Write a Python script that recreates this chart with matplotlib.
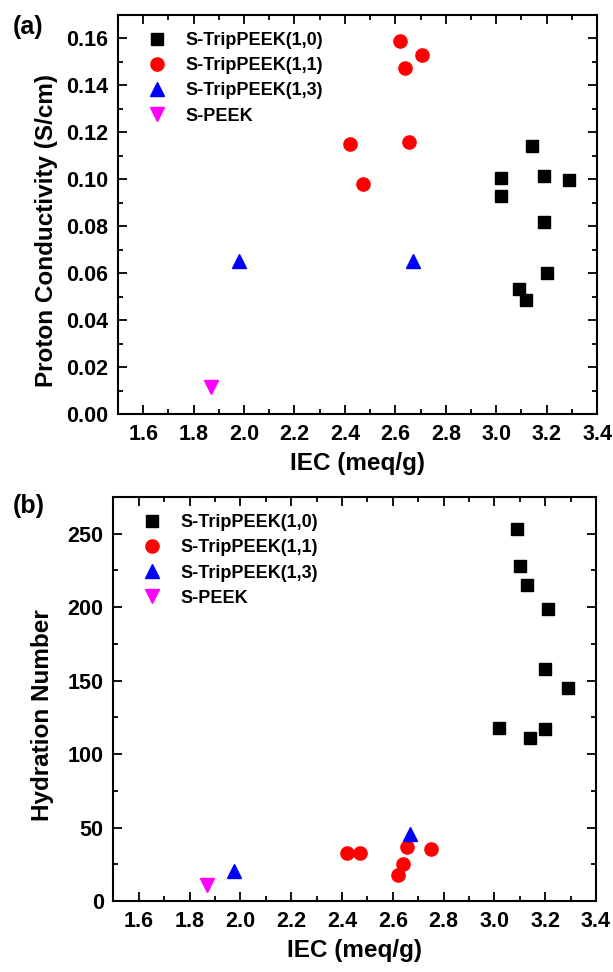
import numpy as np
import matplotlib
matplotlib.use("Agg")
import matplotlib.pyplot as plt
from matplotlib.ticker import MultipleLocator, FormatStrFormatter

plt.rcParams['font.family'] = ['Liberation Sans', 'DejaVu Sans']
plt.rcParams['font.weight'] = 'bold'

labels = ["S-TripPEEK(1,0)", "S-TripPEEK(1,1)", "S-TripPEEK(1,3)", "S-PEEK"]

# (a) proton conductivity vs IEC
a_iec_10 = [3.02, 3.02, 3.14, 3.19, 3.29, 3.19, 3.20, 3.09, 3.12]
a_sig_10 = [0.1005, 0.093, 0.1143, 0.1015, 0.0999, 0.0818, 0.0603, 0.0532, 0.0487]
a_iec_11 = [2.62, 2.705, 2.64, 2.42, 2.655, 2.47]
a_sig_11 = [0.159, 0.1529, 0.1476, 0.115, 0.1157, 0.0978]
a_iec_13 = [1.98, 2.67]
a_sig_13 = [0.0653, 0.065]
a_iec_pk = [1.87]
a_sig_pk = [0.0114]

# (b) hydration number vs IEC
b_iec_10 = [3.09, 3.10, 3.13, 3.21, 3.20, 3.29, 3.02, 3.20, 3.14]
b_lam_10 = [253, 228, 215, 199, 158, 145, 118, 117, 111]
b_iec_11 = [2.42, 2.47, 2.657, 2.75, 2.64, 2.62]
b_lam_11 = [32.6, 32.6, 36.5, 35.3, 25.0, 18.0]
b_iec_13 = [1.975, 2.667]
b_lam_13 = [20.5, 45.5]
b_iec_pk = [1.867]
b_lam_pk = [11.0]

styles = [('s', 'black', 8.5), ('o', 'red', 9.5), ('^', 'blue', 10), ('v', 'magenta', 10)]

fig = plt.figure(figsize=(6.13, 9.72), dpi=100)
ax1 = fig.add_axes([0.1925, 0.574, 0.7815, 0.4106])
ax2 = fig.add_axes([0.185, 0.073, 0.7872, 0.4157])

def draw(ax, sets):
    for (x, y), lab, (m, c, ms) in zip(sets, labels, styles):
        ax.plot(x, y, linestyle='none', marker=m, color=c, markersize=ms, label=lab)
    ax.set_xlim(1.5, 3.4)
    ax.xaxis.set_major_locator(MultipleLocator(0.2))
    ax.xaxis.set_minor_locator(MultipleLocator(0.1))
    ax.tick_params(which='both', direction='in', top=True, right=True, width=1.3,
                   labelsize=15.5, pad=7)
    ax.tick_params(which='major', length=6.5)
    ax.tick_params(which='minor', length=3.5)
    for s in ax.spines.values():
        s.set_linewidth(1.5)
    ax.set_xlabel('IEC (meq/g)', fontsize=17.5, fontweight='bold', labelpad=5)
    ax.legend(loc='upper left', bbox_to_anchor=(0.043, 0.975), borderaxespad=0,
              frameon=False, fontsize=13, handletextpad=0.97, handlelength=1.2,
              labelspacing=0.45)

draw(ax1, [(a_iec_10, a_sig_10), (a_iec_11, a_sig_11), (a_iec_13, a_sig_13), (a_iec_pk, a_sig_pk)])
ax1.set_ylim(0, 0.17)
ax1.yaxis.set_major_locator(MultipleLocator(0.02))
ax1.yaxis.set_minor_locator(MultipleLocator(0.01))
ax1.yaxis.set_major_formatter(FormatStrFormatter('%.2f'))
ax1.set_ylabel('Proton Conductivity (S/cm)', fontsize=17.5, fontweight='bold', labelpad=6)
ax1.yaxis.label.set_y(0.46)

draw(ax2, [(b_iec_10, b_lam_10), (b_iec_11, b_lam_11), (b_iec_13, b_lam_13), (b_iec_pk, b_lam_pk)])
ax2.set_ylim(0, 275)
ax2.yaxis.set_major_locator(MultipleLocator(50))
ax2.yaxis.set_minor_locator(MultipleLocator(25))
ax2.set_ylabel('Hydration Number', fontsize=17.5, fontweight='bold', labelpad=10)
ax2.yaxis.label.set_y(0.46)

fig.text(0.02, 0.972, '(a)', fontsize=18, fontweight='bold', va='center')
fig.text(0.02, 0.479, '(b)', fontsize=18, fontweight='bold', va='center')

fig.savefig('out.png', dpi=100)
